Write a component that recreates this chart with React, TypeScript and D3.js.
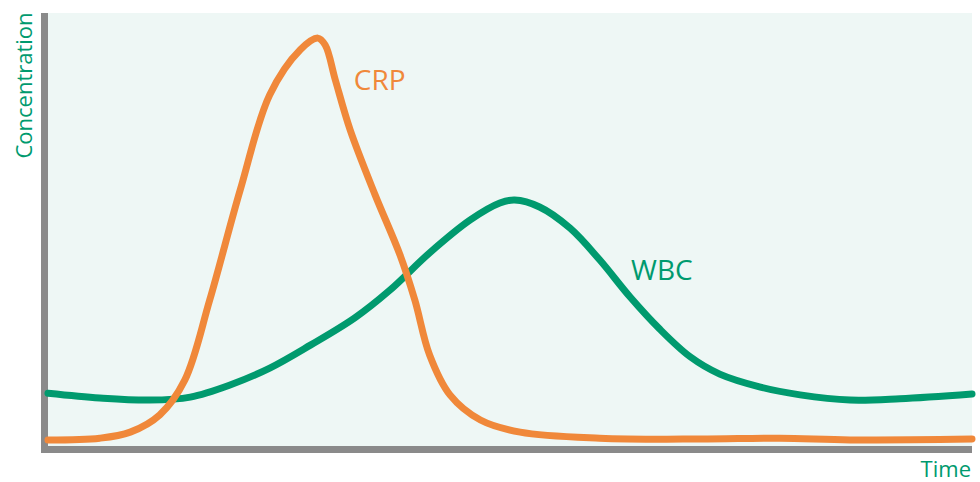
import { useEffect, useRef } from 'react';
import * as d3 from 'd3';

// Time in arbitrary units (0-100), concentration in arbitrary units (0-100)
const crpTime = [0, 5.6, 8.9, 12.1, 14.8, 17.5, 20.8, 24.0, 27.3, 29.2, 30.0, 31.1, 32.7, 35.4, 38.1, 39.7, 41.3, 43.5, 46.8, 51.1, 59.7, 70.6, 79.2, 86.8, 100];
const crpValue = [1.4, 1.8, 3.2, 7.2, 15.2, 33.7, 59.1, 81.1, 91.5, 94.2, 92.6, 84.5, 73.0, 58.0, 44.1, 33.7, 21.0, 11.8, 6.0, 3.2, 1.8, 1.6, 1.8, 1.4, 1.6];

const wbcTime = [0, 5.6, 11.0, 15.4, 19.7, 24.0, 28.4, 33.2, 37.0, 41.3, 45.7, 48.9, 50.5, 53.2, 56.5, 59.7, 63.0, 66.2, 69.5, 72.7, 77.1, 81.4, 86.8, 92.2, 100];
const wbcValue = [12.2, 11.1, 10.6, 11.3, 14.1, 18.0, 23.3, 29.6, 36.0, 44.6, 52.2, 56.1, 56.8, 55.2, 50.3, 43.0, 34.4, 27.0, 20.6, 16.6, 13.6, 11.8, 10.6, 10.9, 12.0];

const ORANGE = '#f0883a';
const GREEN = '#009a6e';
const AXIS = '#8a8a8a';
const BG = '#eef7f5';
const FONT = '"Open Sans", "DejaVu Sans", sans-serif';

export default function App() {
  const svgRef = useRef<SVGSVGElement>(null);
  const width = 980;
  const height = 482;

  useEffect(() => {
    if (!svgRef.current) return;
    const svg = d3.select(svgRef.current);
    svg.selectAll('*').remove();

    const left = 48, right = 972, top = 13, bottom = 446;

    const x = d3.scaleLinear().domain([0, 100]).range([left, right]);
    const y = d3.scaleLinear().domain([0, 100]).range([bottom, top]);

    // plot background
    svg.append('rect')
      .attr('x', left).attr('y', top)
      .attr('width', right - left).attr('height', bottom - top)
      .attr('fill', BG);

    // axes (thick grey bars)
    svg.append('rect')
      .attr('x', left - 7).attr('y', top)
      .attr('width', 7).attr('height', bottom - top + 7)
      .attr('fill', AXIS);
    svg.append('rect')
      .attr('x', left - 7).attr('y', bottom)
      .attr('width', right - left + 7).attr('height', 7)
      .attr('fill', AXIS);

    const line = d3.line<[number, number]>()
      .x(d => x(d[0]))
      .y(d => y(d[1]))
      .curve(d3.curveCatmullRom.alpha(0.5));

    const wbc: [number, number][] = wbcTime.map((t, i) => [t, wbcValue[i]]);
    const crp: [number, number][] = crpTime.map((t, i) => [t, crpValue[i]]);

    svg.append('path')
      .attr('d', line(wbc))
      .attr('fill', 'none')
      .attr('stroke', GREEN)
      .attr('stroke-width', 7)
      .attr('stroke-linecap', 'round')
      .attr('stroke-linejoin', 'round');

    svg.append('path')
      .attr('d', line(crp))
      .attr('fill', 'none')
      .attr('stroke', ORANGE)
      .attr('stroke-width', 7)
      .attr('stroke-linecap', 'round')
      .attr('stroke-linejoin', 'round');

    // series labels
    svg.append('text')
      .attr('x', x(33.1)).attr('y', y(82.3))
      .attr('fill', ORANGE)
      .attr('font-family', FONT)
      .attr('font-size', 28)
      .text('CRP');

    svg.append('text')
      .attr('x', x(63.1)).attr('y', y(38.3))
      .attr('fill', GREEN)
      .attr('font-family', FONT)
      .attr('font-size', 28)
      .text('WBC');

    // axis titles
    svg.append('text')
      .attr('transform', `translate(32, ${(top + 158) / 2}) rotate(-90)`)
      .attr('text-anchor', 'middle')
      .attr('fill', GREEN)
      .attr('font-family', FONT)
      .attr('font-size', 22)
      .text('Concentration');

    svg.append('text')
      .attr('x', 971).attr('y', 477)
      .attr('text-anchor', 'end')
      .attr('fill', GREEN)
      .attr('font-family', FONT)
      .attr('font-size', 22)
      .text('Time');
  }, []);

  return (
    <svg
      ref={svgRef}
      width={width}
      height={height}
      style={{ position: 'absolute', left: 0, top: 0, background: '#ffffff' }}
    />
  );
}
